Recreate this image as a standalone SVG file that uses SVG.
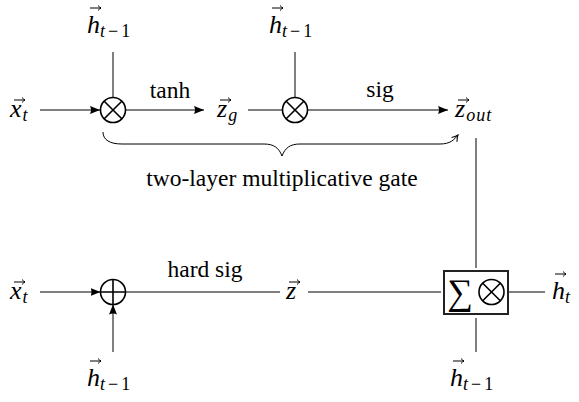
<svg xmlns="http://www.w3.org/2000/svg" xmlns:xlink="http://www.w3.org/1999/xlink" width="579" height="402" viewBox="0 0 579 402">
<style>
.ln{stroke:#000;stroke-width:1;fill:none}
.op{stroke:#000;stroke-width:1.6;fill:none}
.box{stroke:#222;stroke-width:2;fill:#fff}
.txt{font-family:'Liberation Serif','DejaVu Serif',serif;font-size:23.5px;fill:#000}
.m{font-family:'Liberation Serif','DejaVu Serif',serif;font-style:italic;font-size:26px;fill:#000}
.s{font-size:18px}
.u{font-style:normal}
.va{stroke:#000;stroke-width:1;fill:none}
</style>
<defs>
<marker id="ah" viewBox="0 0 10 8" refX="10" refY="4" markerWidth="10" markerHeight="8" markerUnits="userSpaceOnUse" orient="auto">
<path d="M0,0 L10,4 L0,8 Q2,4 0,0 Z" fill="#000"/>
</marker>
<marker id="oh" viewBox="0 0 8 8" refX="7" refY="4" markerWidth="8" markerHeight="8" markerUnits="userSpaceOnUse" orient="auto">
<path d="M1,0.5 Q4,3 7,4 Q4,5 1,7.5" fill="none" stroke="#000" stroke-width="1"/>
</marker>
<path id="vec" d="M0,0 H11 M8,-2.5 Q9.5,-0.8 11,0 Q9.5,0.8 8,2.5" class="va"/>
<g id="otimes"><circle r="12.5" class="op"/><path d="M-8.8,-8.8 L8.8,8.8 M-8.8,8.8 L8.8,-8.8" class="op"/></g>
<g id="oplus"><circle r="12.5" class="op"/><path d="M-12.5,0 H12.5 M0,-12.5 V12.5" class="op"/></g>
</defs>

<g id="connectors">
<line x1="40" y1="110" x2="100" y2="110" class="ln" marker-end="url(#ah)"/>
<line x1="113" y1="52" x2="113" y2="97.5" class="ln"/>
<line x1="125.5" y1="110" x2="204" y2="110" class="ln" marker-end="url(#ah)"/>
<line x1="248" y1="110" x2="282.5" y2="110" class="ln"/>
<line x1="295" y1="52" x2="295" y2="97.5" class="ln"/>
<line x1="307.5" y1="110" x2="448" y2="110" class="ln" marker-end="url(#ah)"/>
<path d="M103,132 C103,140 110,144 122,144 L264,144 C274,144 279,148 282,156 C285,148 290,144 300,144 L440,144 C450,144 454,140 458,135" class="ln" marker-end="url(#oh)"/>
<line x1="476" y1="138" x2="476" y2="268" class="ln"/>
<line x1="40" y1="292" x2="100.5" y2="292" class="ln" marker-end="url(#ah)"/>
<line x1="113" y1="352" x2="113" y2="304.5" class="ln" marker-end="url(#ah)"/>
<line x1="125.5" y1="292" x2="280" y2="292" class="ln"/>
<line x1="308" y1="292" x2="441" y2="292" class="ln"/>
<line x1="508" y1="292" x2="545" y2="292" class="ln"/>
<line x1="476" y1="318" x2="476" y2="352" class="ln"/>
</g>

<g id="x_t_top">
<text x="10" y="117" class="m">x<tspan class="s" dy="4" dx="1">t</tspan></text>
<use xlink:href="#vec" x="14" y="100"/>
</g>
<g id="h_top1">
<text x="87" y="33" class="m">h<tspan class="s" dy="4">t<tspan class="u" dx="3">−</tspan><tspan class="u" dx="3">1</tspan></tspan></text>
<use xlink:href="#vec" x="90" y="8"/>
</g>
<g id="mult1"><use xlink:href="#otimes" x="113" y="110"/></g>
<g id="label_tanh"><text x="170" y="98" class="txt" text-anchor="middle">tanh</text></g>
<g id="z_g">
<text x="217" y="117" class="m">z<tspan class="s" dy="4" dx="1">g</tspan></text>
<use xlink:href="#vec" x="220" y="100"/>
</g>
<g id="h_top2">
<text x="269" y="33" class="m">h<tspan class="s" dy="4">t<tspan class="u" dx="3">−</tspan><tspan class="u" dx="3">1</tspan></tspan></text>
<use xlink:href="#vec" x="272" y="8"/>
</g>
<g id="mult2"><use xlink:href="#otimes" x="295" y="110"/></g>
<g id="label_sig"><text x="380" y="97" class="txt" text-anchor="middle">sig</text></g>
<g id="z_out">
<text x="455" y="117" class="m">z<tspan class="s" dy="4" dx="1" letter-spacing="1">out</tspan></text>
<use xlink:href="#vec" x="458" y="100"/>
</g>
<g id="brace_label"><text x="282" y="186" class="txt" text-anchor="middle">two-layer multiplicative gate</text></g>

<g id="x_t_bottom">
<text x="10" y="299" class="m">x<tspan class="s" dy="4" dx="1">t</tspan></text>
<use xlink:href="#vec" x="14" y="282"/>
</g>
<g id="add"><use xlink:href="#oplus" x="113" y="292"/></g>
<g id="h_bottom1">
<text x="87" y="386" class="m">h<tspan class="s" dy="4">t<tspan class="u" dx="3">−</tspan><tspan class="u" dx="3">1</tspan></tspan></text>
<use xlink:href="#vec" x="90" y="361"/>
</g>
<g id="label_hardsig"><text x="205" y="277" class="txt" text-anchor="middle">hard sig</text></g>
<g id="z">
<text x="286" y="299" class="m">z</text>
<use xlink:href="#vec" x="289" y="282"/>
</g>
<g id="sum_mult">
<rect x="444" y="271" width="64" height="43" class="box"/>
<text x="460" y="304" text-anchor="middle" class="txt" style="font-size:36px">∑</text>
<use xlink:href="#otimes" x="491.5" y="292"/>
</g>
<g id="h_t">
<text x="552" y="299" class="m">h<tspan class="s" dy="4">t</tspan></text>
<use xlink:href="#vec" x="555" y="274"/>
</g>
<g id="h_bottom2">
<text x="450" y="386" class="m">h<tspan class="s" dy="4">t<tspan class="u" dx="3">−</tspan><tspan class="u" dx="3">1</tspan></tspan></text>
<use xlink:href="#vec" x="453" y="361"/>
</g>
</svg>
